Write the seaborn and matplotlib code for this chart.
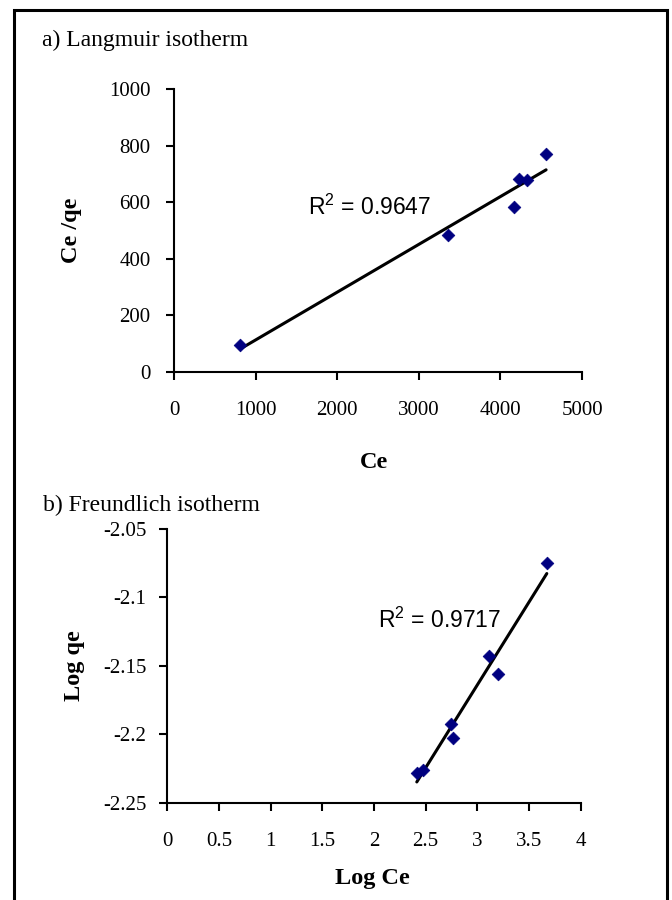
import matplotlib
matplotlib.use("Agg")
import matplotlib.pyplot as plt
import matplotlib.patches as mpatches
from matplotlib.ticker import FuncFormatter, MultipleLocator
import seaborn as sns
import pandas as pd

# ---- data ----
lang_ce = [810, 3360, 4170, 4230, 4330, 4560]
lang_ce_qe = [95, 483, 583, 682, 677, 770]
lang_r2 = "R$^2$ = 0.9647"

freu_log_ce = [2.414, 2.472, 2.743, 2.769, 3.114, 3.195, 3.672]
freu_log_qe = [-2.228, -2.226, -2.1925, -2.2025, -2.143, -2.156, -2.0745]
freu_r2 = "R$^2$ = 0.9717"

titles = ["a) Langmuir isotherm", "b) Freundlich isotherm"]
xlabels = ["Ce", "Log Ce"]
ylabels = ["Ce /qe", "Log qe"]

sns.set_theme(style="white")
plt.rcParams["font.family"] = ["Liberation Serif", "DejaVu Serif"]
plt.rcParams["axes.unicode_minus"] = False
plt.rcParams["mathtext.fontset"] = "custom"
plt.rcParams["mathtext.rm"] = "Liberation Sans"

W, H = 672, 900
fig = plt.figure(figsize=(W / 100, H / 100), dpi=100)
fig.patch.set_facecolor("white")

# outer frame
frame = mpatches.Rectangle((14 / W, -0.05), (667 - 14) / W, 1.05 - 10 / H,
                           transform=fig.transFigure, fill=False,
                           edgecolor="black", linewidth=2.2)
fig.add_artist(frame)

ax1 = fig.add_axes([174 / W, 1 - 372 / H, 408 / W, 283 / H])
ax2 = fig.add_axes([167.3 / W, 1 - 802.7 / H, 413.4 / W, 273.7 / H])

df1 = pd.DataFrame({"Ce": lang_ce, "Ce/qe": lang_ce_qe})
df2 = pd.DataFrame({"LogCe": freu_log_ce, "Logqe": freu_log_qe})

mk = dict(s=42, color="#000080", edgecolors="#000080", linewidths=0.5,
          alpha=1.0, zorder=3)
ln = dict(color="black", linewidth=2.2, zorder=2)

sns.regplot(data=df1, x="Ce", y="Ce/qe", ax=ax1, ci=None, truncate=True,
            marker="D", scatter_kws=mk, line_kws=ln)
sns.regplot(data=df2, x="LogCe", y="Logqe", ax=ax2, ci=None, truncate=True,
            marker="D", scatter_kws=mk, line_kws=ln)

ax1.set_xlim(0, 5000)
ax1.set_ylim(0, 1000)
ax1.xaxis.set_major_locator(MultipleLocator(1000))
ax1.yaxis.set_major_locator(MultipleLocator(200))

ax2.set_xlim(0, 4)
ax2.set_ylim(-2.25, -2.05)
ax2.xaxis.set_major_locator(MultipleLocator(0.5))
ax2.yaxis.set_major_locator(MultipleLocator(0.05))

fmt = FuncFormatter(lambda v, p: f"{round(v, 4):g}")

for ax, xl, yl in zip([ax1, ax2], xlabels, ylabels):
    ax.set_facecolor("white")
    for s in ["top", "right"]:
        ax.spines[s].set_visible(False)
    for s in ["left", "bottom"]:
        ax.spines[s].set_color("black")
        ax.spines[s].set_linewidth(1.5)
    ax.xaxis.set_major_formatter(fmt)
    ax.yaxis.set_major_formatter(fmt)
    ax.tick_params(axis="both", which="major", direction="out", length=6,
                   width=1.5, color="black", labelsize=15, labelcolor="black",
                   bottom=True, left=True)
    ax.tick_params(axis="x", pad=15)
    ax.tick_params(axis="y", pad=11)
    ax.set_xlabel(xl, fontsize=17.5, fontweight="bold", color="black")
    ax.set_ylabel(yl, fontsize=17.5, fontweight="bold", color="black")
    ax.grid(False)

ax1.xaxis.set_label_coords(0.49, -0.283)
ax1.yaxis.set_label_coords(-0.2255, 0.5)
ax2.xaxis.set_label_coords(0.495, -0.2386)
ax2.yaxis.set_label_coords(-0.199, 0.5)

ax2.tick_params(axis="y", pad=9)

# R^2 annotations
ax1.text(1642, 583, lang_r2, fontsize=16.5, family="Liberation Sans",
         ha="left", va="center", color="black")
ax2.text(2.037, -2.1164, freu_r2, fontsize=16.5, family="Liberation Sans",
         ha="left", va="center", color="black")

fig.text(42 / W, 1 - 40 / H, titles[0], fontsize=17, ha="left", va="center", color="black")
fig.text(43 / W, 1 - 505 / H, titles[1], fontsize=17, ha="left", va="center", color="black")

fig.savefig("out.png", dpi=100, facecolor="white")
